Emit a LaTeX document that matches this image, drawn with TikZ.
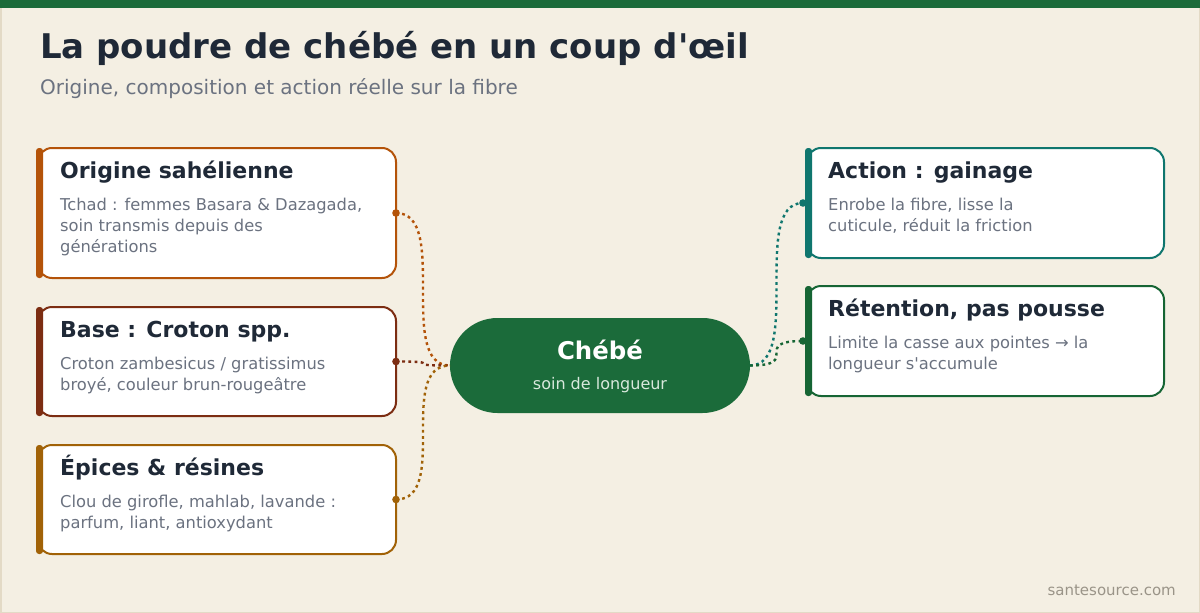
\documentclass[tikz,border=0pt]{standalone}
\usepackage{fontspec}
\setmainfont{DejaVu Sans}
\usetikzlibrary{positioning}

\definecolor{paper}{HTML}{F4EFE3}
\definecolor{paperline}{HTML}{E3DAC6}
\definecolor{forest}{HTML}{1B6B3A}
\definecolor{ink}{HTML}{1F2937}
\definecolor{slate}{HTML}{6B7280}
\definecolor{rust}{HTML}{B45309}
\definecolor{maroon}{HTML}{7C2D12}
\definecolor{ochre}{HTML}{A16207}
\definecolor{seateal}{HTML}{0F766E}
\definecolor{leaf}{HTML}{166534}
\definecolor{mist}{HTML}{D8E8DC}
\definecolor{stone}{HTML}{9A9488}

\tikzset{
  card/.style={draw=#1, line width=2, fill=white, rounded corners=14, minimum width=358,
    minimum height=109, inner sep=0, outer sep=0, anchor=north west},
  cardbar/.style={fill=#1, rounded corners=3},
  heading/.style={font=\fontsize{22}{26}\selectfont\bfseries, text=ink, inner sep=0, anchor=base west},
  blurb/.style={font=\fontsize{16.3}{21}\selectfont, text=slate, inner sep=0, align=left},
  core/.style={fill=forest, rounded corners=47.5, minimum width=300, minimum height=95, inner sep=0, outer sep=0},
  link/.style={draw=#1, line width=2.4, dash pattern=on 2.8 off 3.4},
  pin/.style={fill=#1}
}

\begin{document}
\begin{tikzpicture}[x=1pt, y=-1pt]
  \useasboundingbox (0,0) rectangle (1200,613);
  \fill[paper] (0,0) rectangle (1200,613);
  \draw[paperline, line width=1.5] (0.75,0.75) rectangle (1199.25,612.25);
  \fill[forest] (0,0) rectangle (1200,8);

  \node[font=\fontsize{34}{40}\selectfont\bfseries, text=ink, inner sep=0, anchor=base west] (title) at (40,58.5)
    {La poudre de chébé en un coup d\textquotesingle œil};
  \node[font=\fontsize{20}{24}\selectfont, text=slate, inner sep=0, anchor=base west] (subtitle) at (40,94)
    {Origine, composition et action réelle sur la fibre};

  % left column
  \node[card=rust, minimum height=130] (orig) at (38,148) {};
  \fill[cardbar=rust] ([xshift=-2]orig.north west) rectangle ([xshift=5]orig.south west);
  \node[heading] (origT) at ([xshift=22, yshift=-30]orig.north west) {Origine sahélienne};
  \node[blurb, below=20pt of origT.base west, anchor=north west] (origB)
    {Tchad : femmes Basara \& Dazagada,\\soin transmis depuis des\\générations};

  \node[card=maroon] (base) at (38,307) {};
  \fill[cardbar=maroon] ([xshift=-2]base.north west) rectangle ([xshift=5]base.south west);
  \node[heading] (baseT) at ([xshift=22, yshift=-30]base.north west) {Base : Croton spp.};
  \node[blurb, below=20pt of baseT.base west, anchor=north west] (baseB)
    {Croton zambesicus / gratissimus\\broyé, couleur brun-rougeâtre};

  \node[card=ochre] (spice) at (38,445) {};
  \fill[cardbar=ochre] ([xshift=-2]spice.north west) rectangle ([xshift=5]spice.south west);
  \node[heading] (spiceT) at ([xshift=22, yshift=-30]spice.north west) {Épices \& résines};
  \node[blurb, below=20pt of spiceT.base west, anchor=north west] (spiceB)
    {Clou de girofle, mahlab, lavande :\\parfum, liant, antioxydant};

  % right column
  \node[card=seateal, minimum width=357, minimum height=110] (act) at (807,148) {};
  \fill[cardbar=seateal] ([xshift=-2]act.north west) rectangle ([xshift=5]act.south west);
  \node[heading] (actT) at ([xshift=21, yshift=-30]act.north west) {Action : gainage};
  \node[blurb, below=20pt of actT.base west, anchor=north west] (actB)
    {Enrobe la fibre, lisse la\\cuticule, réduit la friction};

  \node[card=leaf, minimum width=357, minimum height=110] (ret) at (807,286) {};
  \fill[cardbar=leaf] ([xshift=-2]ret.north west) rectangle ([xshift=5]ret.south west);
  \node[heading] (retT) at ([xshift=21, yshift=-30]ret.north west) {Rétention, pas pousse};
  \node[blurb, below=20pt of retT.base west, anchor=north west] (retB)
    {Limite la casse aux pointes → la\\longueur s\textquotesingle accumule};

  % centre
  \node[core] (core) at (600,365.5) {};
  \node[font=\fontsize{24.4}{28}\selectfont\bfseries, text=white, inner sep=0, anchor=base] (coreT) at (600,359) {Chébé};
  \node[font=\fontsize{16}{19}\selectfont, text=mist, inner sep=0, anchor=base] (coreB) at (600,389) {soin de longueur};

  \coordinate (actpin) at ([xshift=-4]act.west);
  \coordinate (retpin) at ([xshift=-4]ret.west);

  \draw[link=rust] (orig.east) .. controls +(54,0) and +(-54,0) .. (core.west);
  \draw[link=maroon] (base.east) .. controls +(54,0) and +(-54,0) .. (core.west);
  \draw[link=ochre] (spice.east) .. controls +(54,0) and +(-54,0) .. (core.west);
  \draw[link=seateal] (core.east) .. controls +(53,0) and +(-53,0) .. (actpin);
  \draw[link=leaf] (core.east) .. controls +(53,0) and +(-53,0) .. (retpin);

  \fill[pin=rust] (orig.east) circle (3.8);
  \fill[pin=maroon] (base.east) circle (3.8);
  \fill[pin=ochre] (spice.east) circle (3.8);
  \fill[pin=seateal] (actpin) circle (3.8);
  \fill[pin=leaf] (retpin) circle (3.8);

  \node[font=\fontsize{15}{18}\selectfont, text=stone, inner sep=0, anchor=base east] (site) at (1176,595) {santesource.com};
\end{tikzpicture}
\end{document}
